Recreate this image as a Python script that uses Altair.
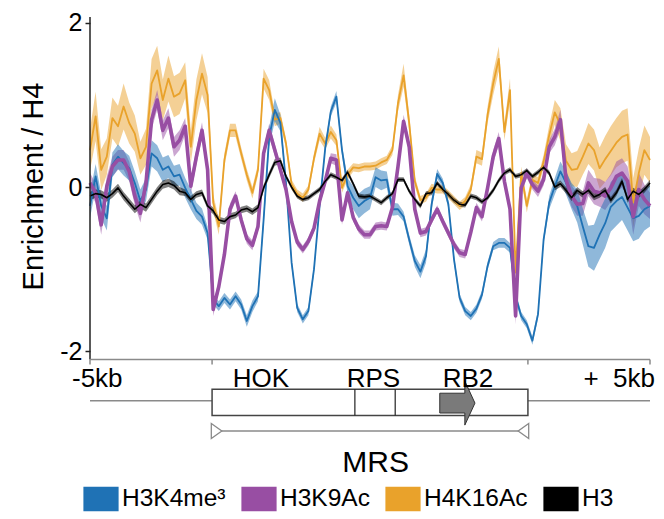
import altair as alt
import numpy as np
import pandas as pd

# ---------------- data ----------------
positions_kb = np.round(np.linspace(-5, 5, 101), 2)

series_names = ["H3K4me³", "H3K9Ac", "H4K16Ac", "H3"]
series_colors = ["#1f72b5", "#984ea3", "#e9a22b", "#000000"]

h3k4me3 = [-0.23, 0.13, -0.23, -0.38, 0.27, 0.37, 0.29, 0.23, 0.05, -0.17,
           -0.03, 0.41, 0.35, 0.21, 0.25, 0.13, 0.15, -0.01, -0.15, -0.29,
           -0.36, -0.56, -1.37, -1.45, -1.35, -1.43, -1.33, -1.43, -1.63, -1.45,
           -1.33, -0.40, 0.61, 0.94, 0.78, 0.05, -0.92, -1.47, -1.61, -1.51,
           -1.00, -0.23, 0.47, 0.92, 1.10, 0.45, 0.01, -0.13, -0.23, -0.17,
           -0.13, 0.12, 0.08, 0.09, -0.27, -0.27, -0.36, -0.64, -0.90, -1.03,
           -0.84, -0.21, 0.16, 0.05, -0.21, -0.88, -1.35, -1.51, -1.57, -1.48,
           -1.31, -0.96, -0.72, -0.68, -0.68, -0.74, -1.33, -1.57, -1.67, -1.87,
           -1.55, -0.64, -0.19, 0.01, 0.19, 0.05, -0.11, -0.23, -0.48, -0.72,
           -0.74, -0.58, -0.44, -0.24, -0.17, -0.12, -0.25, -0.38, -0.35, -0.27,
           -0.23]
h3k9ac = [0.05, -0.07, -0.46, 0.01, 0.25, 0.33, 0.33, 0.19, -0.11, -0.32,
          0.05, 0.82, 1.06, 0.69, 0.84, 0.49, 0.57, 0.74, 0.01, 0.37,
          0.69, 0.21, -1.49, -1.21, -0.82, -0.27, -0.11, -0.40, -0.63, -0.71,
          -0.48, 0.41, 0.69, 0.45, 0.21, -0.03, -0.42, -0.67, -0.76, -0.66,
          -0.50, -0.17, 0.07, 0.35, 0.33, -0.40, -0.07, -0.37, -0.51, -0.58,
          -0.58, -0.48, -0.47, -0.48, -0.25, 0.25, 0.80, 0.49, -0.27, -0.56,
          -0.54, -0.40, -0.27, -0.42, -0.56, -0.70, -0.80, -0.82, -0.55, -0.25,
          -0.36, -0.01, 0.37, 0.59, 0.07, -0.27, -1.57, -0.01, 0.17, 0.03,
          -0.05, 0.09, 0.49, 0.61, 0.82, 0.09, -0.11, -0.21, -0.20, 0.05,
          -0.05, -0.07, -0.11, -0.01, 0.13, 0.17, 0.07, -0.36, -0.03, -0.15,
          -0.23]
h4k16ac = [0.45, 0.86, 0.21, 0.37, 0.84, 0.74, 0.98, 0.78, 0.65, 0.35,
           0.49, 1.26, 1.42, 1.06, 1.32, 1.10, 1.14, 1.30, 0.49, 1.06,
           1.38, 1.12, -0.19, -0.48, 0.33, 0.69, 0.69, 0.41, 0.15, -0.07,
           0.21, 1.32, 1.18, 0.82, 0.84, 0.53, 0.03, -0.08, -0.13, -0.03,
           0.35, 0.65, 0.53, 0.67, 0.57, -0.01, 0.15, 0.24, 0.23, 0.25,
           0.25, 0.26, 0.30, 0.33, 0.45, 1.02, 1.36, 0.78, 0.07, -0.16,
           -0.13, -0.01, -0.03, -0.03, -0.09, -0.16, -0.23, -0.17, -0.03, 0.37,
           0.34, 0.88, 1.26, 1.56, 0.67, 1.18, -1.04, 0.17, -0.23, 0.09,
           0.05, 0.31, 0.63, 0.91, 0.76, 0.32, 0.21, 0.22, 0.37, 0.53,
           0.45, 0.23, 0.34, 0.44, 0.54, 0.61, 0.64, -0.19, 0.17, 0.45,
           0.33]
h3 = [-0.11, -0.08, -0.09, -0.13, -0.08, -0.01, -0.11, -0.19, -0.27, -0.21,
      -0.25, -0.15, -0.05, 0.03, 0.05, 0.02, -0.05, -0.07, -0.15, -0.09,
      -0.07, -0.23, -0.29, -0.40, -0.42, -0.36, -0.34, -0.28, -0.26, -0.30,
      -0.25, -0.01, 0.15, 0.30, 0.32, 0.13, 0.00, -0.11, -0.15, -0.13,
      -0.08, -0.03, 0.07, 0.15, 0.12, 0.08, 0.18, 0.04, -0.11, -0.12,
      -0.11, -0.15, -0.19, -0.13, -0.08, 0.09, 0.09, -0.05, -0.15, -0.23,
      -0.08, -0.07, 0.05, -0.03, -0.09, -0.16, -0.21, -0.22, -0.11, -0.13,
      -0.18, -0.13, -0.04, 0.08, 0.17, 0.21, 0.13, 0.15, 0.20, 0.13,
      0.18, 0.24, 0.17, 0.00, 0.04, -0.04, -0.13, -0.04, -0.09, -0.04,
      -0.12, -0.09, -0.04, -0.16, -0.07, 0.07, -0.15, -0.05, -0.09, -0.03,
      0.05]

# half widths of the shaded error bands
h3k4me3_err = [0.15, 0.15, 0.15, 0.15, 0.15, 0.15, 0.15, 0.15, 0.14, 0.14,
               0.14, 0.16, 0.16, 0.15, 0.14, 0.13, 0.13, 0.12, 0.12, 0.10,
               0.10, 0.08, 0.06, 0.06, 0.06, 0.06, 0.06, 0.06, 0.07, 0.07,
               0.06, 0.08, 0.12, 0.14, 0.10, 0.06, 0.05, 0.05, 0.05, 0.05,
               0.05, 0.05, 0.05, 0.06, 0.07, 0.06, 0.10, 0.14, 0.15, 0.15,
               0.14, 0.12, 0.12, 0.10, 0.08, 0.07, 0.06, 0.06, 0.07, 0.08,
               0.08, 0.07, 0.06, 0.05, 0.05, 0.05, 0.05, 0.05, 0.05, 0.05,
               0.05, 0.05, 0.05, 0.06, 0.06, 0.06, 0.06, 0.05, 0.05, 0.05,
               0.05, 0.05, 0.08, 0.10, 0.12, 0.14, 0.16, 0.20, 0.22, 0.25,
               0.28, 0.30, 0.30, 0.30, 0.30, 0.28, 0.28, 0.28, 0.28, 0.26,
               0.25]
h3k9ac_err = [0.12, 0.12, 0.12, 0.12, 0.12, 0.12, 0.12, 0.12, 0.11, 0.11,
              0.11, 0.12, 0.12, 0.12, 0.12, 0.12, 0.12, 0.10, 0.10, 0.10,
              0.10, 0.10, 0.08, 0.07, 0.07, 0.07, 0.06, 0.06, 0.06, 0.06,
              0.06, 0.07, 0.08, 0.07, 0.06, 0.05, 0.05, 0.05, 0.05, 0.05,
              0.05, 0.06, 0.06, 0.06, 0.07, 0.06, 0.05, 0.05, 0.05, 0.05,
              0.05, 0.05, 0.05, 0.05, 0.05, 0.06, 0.08, 0.07, 0.05, 0.05,
              0.05, 0.05, 0.05, 0.05, 0.05, 0.05, 0.05, 0.05, 0.05, 0.06,
              0.06, 0.06, 0.08, 0.08, 0.07, 0.07, 0.10, 0.08, 0.06, 0.06,
              0.07, 0.07, 0.08, 0.10, 0.12, 0.12, 0.13, 0.14, 0.15, 0.16,
              0.16, 0.17, 0.17, 0.17, 0.18, 0.18, 0.18, 0.22, 0.20, 0.18,
              0.16]
h4k16ac_err = [0.25, 0.30, 0.25, 0.22, 0.25, 0.25, 0.28, 0.25, 0.22, 0.20,
               0.22, 0.30, 0.30, 0.25, 0.28, 0.25, 0.25, 0.22, 0.20, 0.25,
               0.25, 0.22, 0.10, 0.10, 0.08, 0.08, 0.08, 0.07, 0.07, 0.07,
               0.07, 0.12, 0.12, 0.08, 0.07, 0.06, 0.06, 0.05, 0.05, 0.05,
               0.06, 0.08, 0.07, 0.08, 0.07, 0.06, 0.06, 0.05, 0.05, 0.05,
               0.05, 0.05, 0.05, 0.05, 0.06, 0.10, 0.14, 0.10, 0.06, 0.05,
               0.05, 0.05, 0.05, 0.05, 0.05, 0.05, 0.05, 0.05, 0.06, 0.08,
               0.08, 0.10, 0.14, 0.15, 0.10, 0.14, 0.10, 0.08, 0.08, 0.07,
               0.07, 0.08, 0.12, 0.15, 0.20, 0.20, 0.20, 0.22, 0.22, 0.25,
               0.25, 0.25, 0.28, 0.30, 0.30, 0.32, 0.32, 0.30, 0.30, 0.30,
               0.28]
h3_err = [0.05, 0.05, 0.05, 0.05, 0.05, 0.05, 0.05, 0.05, 0.05, 0.05,
          0.05, 0.05, 0.05, 0.05, 0.05, 0.05, 0.05, 0.04, 0.04, 0.04,
          0.04, 0.04, 0.04, 0.04, 0.04, 0.04, 0.04, 0.04, 0.04, 0.04,
          0.04, 0.04, 0.04, 0.04, 0.04, 0.03, 0.03, 0.03, 0.03, 0.03,
          0.03, 0.03, 0.03, 0.03, 0.03, 0.03, 0.03, 0.03, 0.03, 0.03,
          0.03, 0.03, 0.03, 0.03, 0.03, 0.03, 0.03, 0.03, 0.03, 0.03,
          0.03, 0.03, 0.03, 0.03, 0.03, 0.03, 0.03, 0.03, 0.03, 0.03,
          0.03, 0.03, 0.03, 0.03, 0.03, 0.03, 0.03, 0.03, 0.03, 0.03,
          0.03, 0.03, 0.03, 0.04, 0.04, 0.04, 0.04, 0.04, 0.04, 0.04,
          0.04, 0.04, 0.04, 0.04, 0.04, 0.04, 0.04, 0.04, 0.04, 0.04,
          0.04]

values = {"H3K4me³": h3k4me3, "H3K9Ac": h3k9ac, "H4K16Ac": h4k16ac, "H3": h3}
errors = {"H3K4me³": h3k4me3_err, "H3K9Ac": h3k9ac_err, "H4K16Ac": h4k16ac_err, "H3": h3_err}

band_order = ["H4K16Ac", "H3K9Ac", "H3K4me³", "H3"]
line_order = ["H4K16Ac", "H3K4me³", "H3K9Ac", "H3"]
line_widths = {"H4K16Ac": 1.8, "H3K4me³": 1.8, "H3K9Ac": 3.6, "H3": 1.6}


def frame(order):
    rows = []
    for s in order:
        for k, v, e in zip(positions_kb, values[s], errors[s]):
            rows.append({"kb": float(k), "value": v, "lo": v - e, "hi": v + e, "series": s})
    return pd.DataFrame(rows)


band_df = frame(band_order)

# gene-map annotation (kb coordinates)
region_start_kb = -2.82
region_end_kb = 2.82
divider_kb = [-0.27, 0.45]
axis_tick_kb = [-5, region_start_kb, region_end_kb, 5]
gene_labels = ["HOK", "RPS", "RB2"]
gene_label_kb = [-1.95, 0.06, 1.75]
end_labels = ["-5kb", "+\u00a0\u00a05kb"]
end_label_kb = [-4.87, 4.45]
rb2_arrow_kb = 1.56
mrs_arrow_kb = [-2.74, 2.74]

# vertical placement of the annotation rows (in y-axis units)
Y_TOP = 2.07
Y_AXIS = -2.1
Y_TICK_END = -2.16
Y_LABEL = -2.44
Y_BOX_TOP = -2.46
Y_BOX_BOTTOM = -2.78
Y_GENE_LINE = -2.6
Y_ARROW = -2.63
Y_MRS_LINE = -2.97
Y_MRS_TEXT = -3.47
Y_MIN = -3.566

FONT = "Liberation Sans"

xsc = alt.Scale(domain=[-5, 5], nice=False, zero=False)
ysc = alt.Scale(domain=[Y_MIN, Y_TOP], nice=False, zero=False)
color_scale = alt.Scale(domain=series_names, range=series_colors)

legend = alt.Legend(
    title=None, orient="none", legendX=-7, legendY=464, direction="horizontal",
    symbolType="M-1,-0.68H1V0.68H-1Z", symbolSize=1156,
    symbolStrokeColor="#333333", symbolStrokeWidth=1.2, symbolOpacity=1,
    labelFont=FONT, labelFontSize=24.5, labelColor="black", labelOffset=3,
    columnPadding=13, padding=0,
)

yaxis = alt.Axis(
    values=[-2, 0, 2], domain=False, grid=False, tickSize=5, tickColor="#222222",
    tickWidth=1.5, labelFont=FONT, labelFontSize=25, labelColor="black", labelPadding=3,
    labelExpr="datum.value < 0 ? '-' + toString(-datum.value) : toString(datum.value)",
    title="Enrichment / H4", titleFont=FONT, titleFontSize=29, titleFontWeight="normal",
    titleColor="black", titleX=-48, titleY=169, titleAngle=270, titleBaseline="alphabetic",
    titleAlign="center",
)


def X(field):
    return alt.X(field, scale=xsc, axis=None)


def Y(field):
    return alt.Y(field, scale=ysc, axis=yaxis)


bands = alt.Chart(band_df).mark_area(fillOpacity=0.5, strokeWidth=0).encode(
    x=X("kb:Q"),
    y=Y("lo:Q"),
    y2="hi:Q",
    color=alt.Color("series:N", scale=color_scale, legend=legend, sort=series_names),
    detail="series:N",
)

line_layers = []
for s in line_order:
    df = frame([s])
    line_layers.append(
        alt.Chart(df).mark_line(strokeJoin="round", strokeWidth=line_widths[s]).encode(
            x=X("kb:Q"),
            y=Y("value:Q"),
            color=alt.Color("series:N", scale=color_scale, legend=None),
        )
    )

# gray rules: x axis line, tick marks, gene line, MRS line
gray_rules = pd.DataFrame({
    "x": [-5] + axis_tick_kb + [-5, region_start_kb],
    "x2": [5] + axis_tick_kb + [5, region_end_kb],
    "y": [Y_AXIS] + [Y_AXIS] * 4 + [Y_GENE_LINE, Y_MRS_LINE],
    "y2": [Y_AXIS] + [Y_TICK_END] * 4 + [Y_GENE_LINE, Y_MRS_LINE],
})
gray = alt.Chart(gray_rules).mark_rule(color="#8a8a8a", strokeWidth=1.5).encode(
    x=X("x:Q"), x2="x2:Q", y=Y("y:Q"), y2="y2:Q",
)

yline = alt.Chart(pd.DataFrame({"x": [-5], "y": [Y_AXIS], "y2": [Y_TOP]})).mark_rule(
    color="#222222", strokeWidth=1.5).encode(x=X("x:Q"), y=Y("y:Q"), y2="y2:Q")

box = alt.Chart(pd.DataFrame({"x": [region_start_kb], "x2": [region_end_kb],
                              "y": [Y_BOX_TOP], "y2": [Y_BOX_BOTTOM]})).mark_rect(
    fill="white", stroke="#444444", strokeWidth=1.5).encode(
    x=X("x:Q"), x2="x2:Q", y=Y("y:Q"), y2="y2:Q")

dividers = alt.Chart(pd.DataFrame({"x": divider_kb, "y": [Y_BOX_TOP] * 2,
                                   "y2": [Y_BOX_BOTTOM] * 2})).mark_rule(
    color="#222222", strokeWidth=1.2).encode(x=X("x:Q"), y=Y("y:Q"), y2="y2:Q")

arrow = alt.Chart(pd.DataFrame({"x": [rb2_arrow_kb], "y": [Y_ARROW]})).mark_point(
    shape="M-0.8,-0.45L0.34,-0.45L0.34,-1L0.8,0L0.34,1L0.34,0.45L-0.8,0.45Z",
    size=1936, filled=True, fill="#7a7a7a", stroke="#333333", strokeWidth=1, opacity=1).encode(
    x=X("x:Q"), y=Y("y:Q"))

tri_df = pd.DataFrame({"x": mrs_arrow_kb, "y": [Y_MRS_LINE] * 2, "dir": ["right", "left"]})
tri_right = alt.Chart(tri_df[tri_df.dir == "right"]).mark_point(
    shape="M-0.7,-1L0.7,0L-0.7,1Z", size=225, filled=True, fill="white",
    stroke="#8a8a8a", strokeWidth=1.3, opacity=1).encode(x=X("x:Q"), y=Y("y:Q"))
tri_left = alt.Chart(tri_df[tri_df.dir == "left"]).mark_point(
    shape="M0.7,-1L-0.7,0L0.7,1Z", size=225, filled=True, fill="white",
    stroke="#8a8a8a", strokeWidth=1.3, opacity=1).encode(x=X("x:Q"), y=Y("y:Q"))

label_df = pd.DataFrame({"x": gene_label_kb + end_label_kb,
                         "y": [Y_LABEL] * 5,
                         "text": gene_labels + end_labels})
labels = alt.Chart(label_df).mark_text(
    align="center", baseline="alphabetic", font=FONT, fontSize=26, color="black").encode(
    x=X("x:Q"), y=Y("y:Q"), text="text:N")

mrs = alt.Chart(pd.DataFrame({"x": [0.1], "y": [Y_MRS_TEXT], "text": ["MRS"]})).mark_text(
    align="center", baseline="alphabetic", font=FONT, fontSize=30, color="black").encode(
    x=X("x:Q"), y=Y("y:Q"), text="text:N")

chart = alt.layer(
    bands, *line_layers, yline, gray, box, dividers, arrow, tri_right, tri_left, labels, mrs
).properties(
    width=560, height=463,
    padding={"left": 82, "top": 9, "right": 6, "bottom": 39},
    autosize=alt.AutoSizeParams(type="none"),
).configure(font=FONT).configure_view(stroke=None)

chart.save("out.html", embed_options={"renderer": "svg", "actions": False})
